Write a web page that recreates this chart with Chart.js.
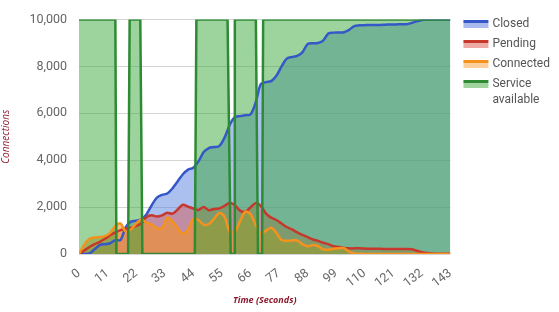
<!DOCTYPE html>
<html>
<head>
<meta charset="utf-8">
<script src="https://cdn.jsdelivr.net/npm/chart.js@4.4.1/dist/chart.umd.min.js"></script>
<style>
  html, body { margin: 0; padding: 0; background: #fff; }
  #wrap { width: 559px; height: 312px; position: relative; }
</style>
</head>
<body>
<div id="wrap"><canvas id="chart"></canvas></div>
<script>
// time stamps (seconds), sampled every 2 s plus the last second
const times = [];
for (let t = 0; t <= 142; t += 2) times.push(t);
times.push(143);

const closed = [
  0, 0, 20, 200, 380, 420, 460, 590, 600, 1150,
  1380, 1420, 1480, 1700, 2080, 2400, 2520, 2580, 2800, 3100,
  3400, 3600, 3680, 3950, 4350, 4520, 4560, 4600, 4950, 5500,
  5830, 5880, 5920, 5950, 6450, 7250, 7330, 7370, 7600, 8000,
  8330, 8400, 8450, 8600, 8950, 8990, 9000, 9100, 9400, 9440,
  9450, 9460, 9560, 9720, 9750, 9760, 9770, 9770, 9770, 9780,
  9790, 9790, 9800, 9800, 9850, 9920, 9980, 10000, 10000, 10000,
  10000, 10000, 10000
];

const pending = [
  0, 150, 300, 420, 520, 650, 800, 920, 1020, 1080,
  1120, 1200, 1300, 1580, 1650, 1600, 1650, 1760, 1720, 1900,
  2100, 2020, 1940, 1880, 2000, 1870, 1920, 1940, 2050, 2180,
  2080, 1850, 1800, 1980, 2170, 2050, 1720, 1550, 1450, 1300,
  1150, 1050, 920, 820, 720, 620, 560, 480, 420, 330,
  300, 260, 240, 240, 240, 230, 220, 220, 220, 210,
  210, 210, 210, 210, 200, 140, 80, 40, 20, 10,
  10, 10, 10
];

const connected = [
  0, 400, 650, 700, 720, 760, 900, 1200, 1300, 950,
  1050, 1300, 1470, 1350, 1250, 1100, 1100, 1550, 1400, 1100,
  850, 1050, 1500, 1450, 1250, 1280, 1500, 1750, 1600, 950,
  950, 1400, 1800, 1700, 1250, 880, 1000, 1120, 900, 600,
  560, 580, 580, 420, 330, 380, 340, 200, 180, 220,
  240, 250, 100, 20, 10, 0, 0, 0, 0, 0,
  0, 0, 0, 0, 0, 0, 0, 0, 0, 0,
  0, 0, 0
];

// service availability is a step series: on (10000) or off (0)
const serviceTimes = [0, 14.0, 14.4, 18.9, 19.5, 23.6, 24.4, 44.6, 45.2, 57.2, 58.4, 59.7, 60.0, 68.1, 68.9, 70.5, 70.9, 143];
const serviceValues = [10000, 10000, 0, 0, 10000, 10000, 0, 0, 10000, 10000, 0, 0, 10000, 10000, 0, 0, 10000, 10000];

const xTicks = [0, 11, 22, 33, 44, 55, 66, 77, 88, 99, 110, 121, 132, 143];

const pts = (xs, ys) => xs.map((x, i) => ({ x, y: ys[i] }));

const titleColor = '#8e1b2e';
const tickColor = '#666';

// legend swatch: dark line on top of a pale band, drawn a bit right of the legend box
function swatch(line, band) {
  const c = document.createElement('canvas');
  c.width = 40;
  c.height = 8;
  const g = c.getContext('2d');
  g.fillStyle = band;
  g.fillRect(11, 3, 25, 5);
  g.fillStyle = line;
  g.fillRect(11, 0, 25, 3);
  return c;
}

new Chart(document.getElementById('chart'), {
  type: 'line',
  data: {
    datasets: [{
      label: 'Closed',
      data: pts(times, closed),
      borderColor: '#3558c8',
      backgroundColor: 'rgba(90, 130, 225, 0.5)',
      pointStyle: swatch('#3558c8', '#a9bbee'),
      borderWidth: 2.5,
      fill: 'origin',
      tension: 0.3,
      order: 3
    }, {
      label: 'Pending',
      data: pts(times, pending),
      borderColor: '#c8372b',
      backgroundColor: 'rgba(220, 80, 70, 0.45)',
      pointStyle: swatch('#c8372b', '#eeaaa5'),
      borderWidth: 2.5,
      fill: 'origin',
      tension: 0.3,
      order: 2
    }, {
      label: 'Connected',
      data: pts(times, connected),
      borderColor: '#f5921e',
      backgroundColor: 'rgba(245, 145, 40, 0.6)',
      pointStyle: swatch('#f5921e', '#fbd09e'),
      borderWidth: 2.5,
      fill: 'origin',
      tension: 0.3,
      order: 1
    }, {
      label: ['Service', 'available'],
      data: pts(serviceTimes, serviceValues),
      borderColor: '#2e8b34',
      backgroundColor: 'rgba(60, 170, 60, 0.5)',
      pointStyle: swatch('#2e8b34', '#9fd49f'),
      borderWidth: 2.5,
      fill: 'origin',
      tension: 0,
      order: 0
    }]
  },
  options: {
    responsive: true,
    maintainAspectRatio: false,
    animation: false,
    elements: { point: { radius: 0 } },
    layout: { padding: { top: 10, right: -1, bottom: 6, left: 0 } },
    plugins: {
      filler: { drawTime: 'beforeDatasetsDraw' },
      tooltip: { enabled: false },
      legend: {
        position: 'right',
        align: 'start',
        labels: {
          usePointStyle: true,
          pointStyleWidth: 28,
          boxHeight: 8,
          padding: 8,
          color: '#555',
          font: { family: 'Roboto', size: 12, lineHeight: 1.35 },
          sort: (a, b) => a.datasetIndex - b.datasetIndex
        }
      }
    },
    scales: {
      x: {
        type: 'linear',
        min: 0,
        max: 143,
        afterBuildTicks: (scale) => { scale.ticks = xTicks.map(v => ({ value: v })); },
        afterFit: (scale) => { scale.height = 52; },
        grid: { display: false },
        border: { display: false },
        ticks: {
          color: tickColor,
          font: { family: 'Roboto', size: 12.5 },
          minRotation: 38,
          maxRotation: 38,
          autoSkip: false,
          padding: 4
        },
        title: {
          display: true,
          text: 'Time (Seconds)',
          color: titleColor,
          font: { family: 'Open Sans', size: 9, style: 'italic', weight: 'bold' },
          padding: { top: 4, bottom: 0 }
        }
      },
      y: {
        min: 0,
        max: 10000,
        afterFit: (scale) => { scale.width = 79; },
        ticks: {
          stepSize: 2000,
          color: tickColor,
          font: { family: 'Roboto', size: 12.5 },
          padding: 12
        },
        grid: { color: '#d4d4d4', drawTicks: false },
        border: { display: false },
        title: {
          display: true,
          text: 'Connections',
          color: titleColor,
          font: { family: 'Open Sans', size: 10, style: 'italic' },
          padding: { top: 0, bottom: 10 }
        }
      }
    }
  }
});
</script>
</body>
</html>
